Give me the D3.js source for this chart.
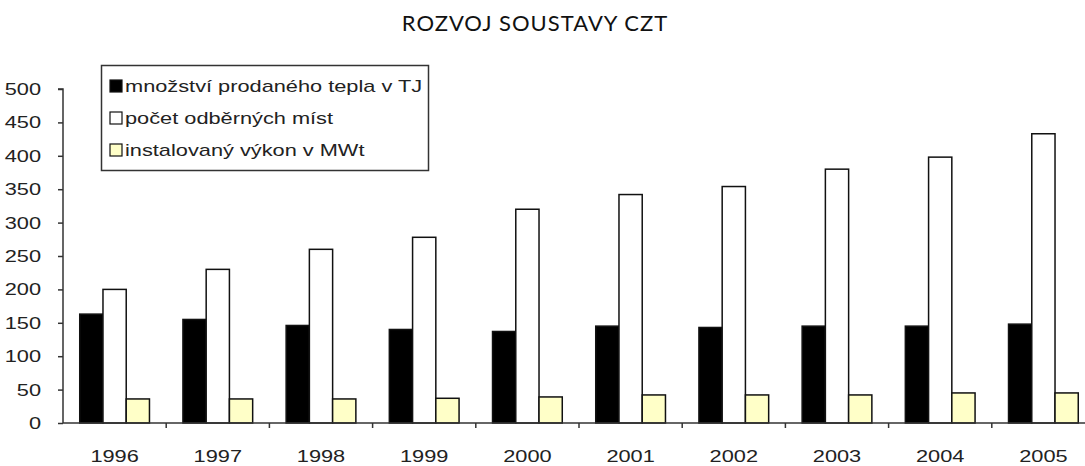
<!DOCTYPE html>
<html>
<head>
<meta charset="utf-8">
<script src="https://cdn.jsdelivr.net/npm/d3@7"></script>
<style>
  body { margin: 0; background: #fff; }
  svg { display: block; }
</style>
</head>
<body>
<div id="chart"></div>
<script>
// data
var years = ['1996', '1997', '1998', '1999', '2000', '2001', '2002', '2003', '2004', '2005'];
var teplo = [163, 155, 146, 140, 137, 145, 143, 145, 145, 148];
var mista = [200, 230, 260, 278, 320, 342, 354, 380, 398, 433];
var vykon = [36, 36, 36, 37, 39, 42, 42, 42, 45, 45];
var seriesNames = ['množství prodaného tepla v TJ', 'počet odběrných míst', 'instalovaný výkon v MWt'];
var yTicks = [0, 50, 100, 150, 200, 250, 300, 350, 400, 450, 500];

var width = 1085, height = 466;
var margin = {top: 89, right: -10, bottom: 43, left: 63};
var colors = ['#000000', '#ffffff', '#ffffc8'];
var stretch = 1.28; // the source picture is a bit wider than tall

var svg = d3.select('#chart').append('svg')
    .attr('width', width).attr('height', height);

svg.append('text')
    .attr('x', 535).attr('y', 31)
    .attr('text-anchor', 'middle')
    .style('font-family', 'Lato, sans-serif')
    .style('font-size', '22px')
    .style('letter-spacing', '1px')
    .attr('fill', '#111')
    .text('ROZVOJ SOUSTAVY CZT');

var rows = years.map((y, i) => ({year: y, vals: [teplo[i], mista[i], vykon[i]]}));

var x0 = d3.scaleBand().domain(years)
    .range([margin.left, width - margin.right])
    .padding(0);

var x1 = d3.scaleBand().domain([0, 1, 2])
    .range([0, x0.bandwidth()])
    .paddingInner(0)
    .paddingOuter(0.72);

var y = d3.scaleLinear().domain([0, 500])
    .range([height - margin.bottom, margin.top]);

// bars
var groups = svg.append('g').classed('bars', true)
    .selectAll('g')
    .data(rows)
    .join('g')
    .attr('transform', d => `translate(${x0(d.year)},0)`);

groups.selectAll('rect')
    .data(d => d.vals.map((v, k) => ({k: k, v: v})))
    .join('rect')
    .attr('x', d => x1(d.k))
    .attr('width', x1.bandwidth())
    .attr('y', d => y(d.v))
    .attr('height', d => y(0) - y(d.v))
    .attr('fill', d => colors[d.k])
    .attr('stroke', '#111')
    .attr('stroke-width', 1.5);

// axes
var yAxis = svg.append('g').classed('y-axis', true)
    .attr('transform', `translate(${margin.left},0)`)
    .call(d3.axisLeft(y).tickValues(yTicks).tickSize(5).tickPadding(17));

var xAxis = svg.append('g').classed('x-axis', true)
    .attr('transform', `translate(0,${y(0)})`)
    .call(d3.axisBottom(x0).tickSize(0).tickPadding(27));

// category boundary ticks
svg.append('g').classed('x-ticks', true)
    .selectAll('line')
    .data(years.slice(1))
    .join('line')
    .attr('x1', d => x0(d)).attr('x2', d => x0(d))
    .attr('y1', y(0)).attr('y2', y(0) + 5)
    .attr('stroke', '#333').attr('stroke-width', 1.5);

svg.selectAll('.domain').attr('stroke', '#333').attr('stroke-width', 1.5);
yAxis.selectAll('.tick line').attr('stroke', '#333').attr('stroke-width', 1.5);
svg.selectAll('.tick text')
    .style('font-family', '"Liberation Sans", Arial, sans-serif')
    .style('font-size', '17px')
    .attr('fill', '#222');
yAxis.select('.domain').attr('d', `M-5,${y(500)}H0V${y(0)}`);
xAxis.select('.domain').attr('d', `M${margin.left},0H${width}`);

// legend
var legend = svg.append('g').classed('legend', true);
legend.append('rect')
    .attr('x', 101.5).attr('y', 65.5)
    .attr('width', 327).attr('height', 105)
    .attr('fill', '#fff')
    .attr('stroke', '#333').attr('stroke-width', 1.5);

var items = legend.selectAll('g.item')
    .data(seriesNames)
    .join('g')
    .classed('item', true)
    .attr('transform', (d, i) => `translate(110,${86 + i * 32})`);

items.append('rect')
    .attr('x', 0).attr('y', -6)
    .attr('width', 12).attr('height', 12)
    .attr('fill', (d, i) => colors[i])
    .attr('stroke', '#111').attr('stroke-width', 1.2);

items.append('text')
    .attr('x', 15).attr('y', 6)
    .style('font-family', '"Liberation Sans", Arial, sans-serif')
    .style('font-size', '17px')
    .attr('fill', '#222')
    .text(d => d);

// widen the Arial-like texts the way the picture is widened
svg.selectAll('.tick text, .legend text').each(function() {
    var w = this.getComputedTextLength();
    d3.select(this)
        .attr('textLength', w * stretch)
        .attr('lengthAdjust', 'spacingAndGlyphs');
});
</script>
</body>
</html>
